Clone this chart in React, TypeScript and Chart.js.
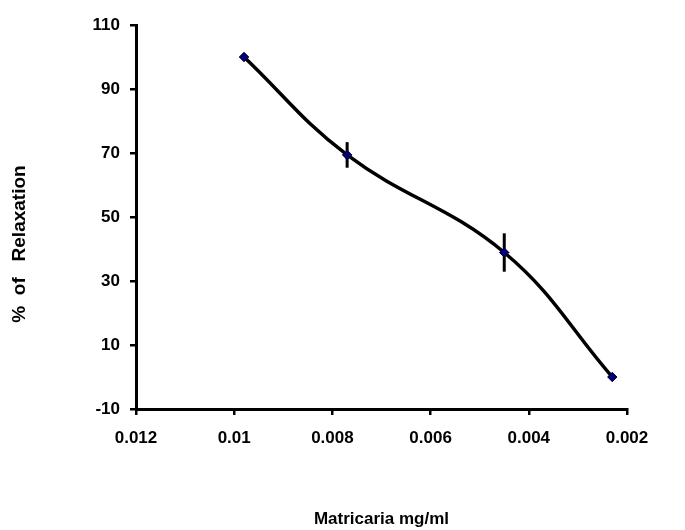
import React, { useEffect, useRef } from "react";
import { Chart, registerables } from "chart.js";

Chart.register(...registerables);

const concentrations = [0.0098, 0.0077, 0.0045, 0.0023];
const relaxation = [100, 69.4, 38.9, 0];
const errors = [0, 4, 6, 0];
const xTicks = [0.012, 0.01, 0.008, 0.006, 0.004, 0.002];
const xTickLabels = ["0.012", "0.01", "0.008", "0.006", "0.004", "0.002"];
const yTicks = [-10, 10, 30, 50, 70, 90, 110];
const yTickLabels = ["-10", "10", "30", "50", "70", "90", "110"];
const xTitle = "Matricaria mg/ml";
const yTitle = "%  of   Relaxation";

const FONT = "'Liberation Sans', Arial, sans-serif";

const errorBarPlugin = {
  id: "errorBars",
  afterDatasetsDraw(chart: any) {
    const { ctx, scales } = chart;
    const xs = scales.x;
    const ys = scales.y;
    ctx.save();
    ctx.strokeStyle = "#000";
    ctx.lineWidth = 3;
    concentrations.forEach((c, i) => {
      const e = errors[i];
      if (!e) return;
      const px = xs.getPixelForValue(c);
      ctx.beginPath();
      ctx.moveTo(px, ys.getPixelForValue(relaxation[i] + e));
      ctx.lineTo(px, ys.getPixelForValue(relaxation[i] - e));
      ctx.stroke();
    });
    const meta = chart.getDatasetMeta(0);
    meta.data.forEach((pt: any) => pt.draw(ctx));
    ctx.restore();
  },
};

const titlePlugin = {
  id: "customTitles",
  afterDraw(chart: any) {
    const { ctx, chartArea } = chart;
    ctx.save();
    ctx.fillStyle = "#000";
    ctx.textAlign = "center";
    ctx.textBaseline = "middle";
    ctx.font = `bold 17px ${FONT}`;
    ctx.fillText(xTitle, (chartArea.left + chartArea.right) / 2, 519);
    ctx.font = `bold 19px ${FONT}`;
    ctx.translate(20, 244);
    ctx.rotate(-Math.PI / 2);
    ctx.fillText(yTitle, 0, 0);
    ctx.restore();
  },
};

export default function App() {
  const ref = useRef<HTMLCanvasElement>(null);
  useEffect(() => {
    document.body.style.margin = "0";
    const canvas = ref.current!;
    const chart = new Chart(canvas, {
      type: "line",
      data: {
        datasets: [
          {
            data: concentrations.map((c, i) => ({ x: c, y: relaxation[i] })),
            borderColor: "#000",
            borderWidth: 3.5,
            tension: 0.4,
            cubicInterpolationMode: "default",
            pointStyle: "rectRot",
            pointRadius: 4.5,
            pointBackgroundColor: "#000080",
            pointBorderColor: "#000033",
            pointBorderWidth: 1,
            fill: false,
          },
        ],
      },
      options: {
        animation: false,
        responsive: false,
        maintainAspectRatio: false,
        layout: { padding: { left: 0, right: 58, top: 25, bottom: 0 } },
        plugins: {
          legend: { display: false },
          tooltip: { enabled: false },
          title: { display: false },
        },
        scales: {
          x: {
            type: "linear",
            reverse: true,
            min: 0.002,
            max: 0.012,
            afterBuildTicks: (s: any) => {
              s.ticks = xTicks.map((v) => ({ value: v }));
            },
            afterFit: (s: any) => {
              s.height = 121;
            },
            ticks: {
              autoSkip: false,
              maxRotation: 0,
              color: "#000",
              padding: 13,
              font: { family: FONT, size: 17, weight: "bold" },
              callback: (_v: any, i: number) => xTickLabels[i],
            },
            grid: {
              display: true,
              drawOnChartArea: false,
              drawTicks: true,
              tickLength: 6,
              color: "#000",
              lineWidth: 2.5,
            },
            border: { display: true, color: "#000", width: 3 },
          },
          y: {
            type: "linear",
            min: -10,
            max: 110,
            afterBuildTicks: (s: any) => {
              s.ticks = yTicks.map((v) => ({ value: v }));
            },
            afterFit: (s: any) => {
              s.width = 136;
            },
            ticks: {
              autoSkip: false,
              color: "#000",
              padding: 10,
              font: { family: FONT, size: 17, weight: "bold" },
              callback: (_v: any, i: number) => yTickLabels[i],
            },
            grid: {
              display: true,
              drawOnChartArea: false,
              drawTicks: true,
              tickLength: 6,
              color: "#000",
              lineWidth: 2.5,
            },
            border: { display: true, color: "#000", width: 3 },
          },
        },
      },
      plugins: [errorBarPlugin, titlePlugin],
    });
    return () => chart.destroy();
  }, []);
  return (
    <div style={{ width: 685, height: 530, background: "#fff" }}>
      <canvas ref={ref} width={685} height={530} style={{ display: "block" }} />
    </div>
  );
}
